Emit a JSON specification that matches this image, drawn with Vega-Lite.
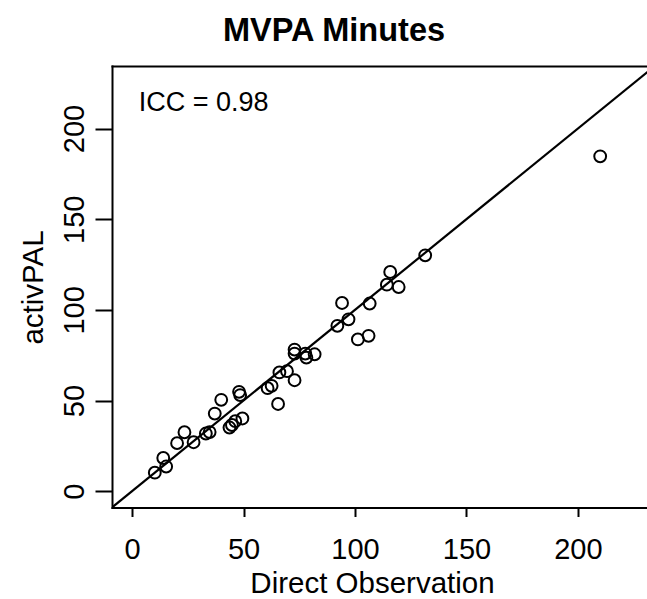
{
  "$schema": "https://vega.github.io/schema/vega-lite/v6.json",
  "width": 535,
  "height": 441.5,
  "autosize": {"type": "none"},
  "padding": {"left": 112, "top": 66, "right": 0, "bottom": 91.5},
  "background": "white",
  "title": {"text": "MVPA Minutes", "fontSize": 32.5, "fontWeight": "bold", "font": "Liberation Sans", "color": "black", "anchor": "middle", "frame": "group", "dx": -45.5, "dy": 30, "offset": 23, "baseline": "alphabetic"},
  "config": {
    "font": "Liberation Sans",
    "view": {"stroke": null},
    "axis": {"grid": false, "domainColor": "black", "domainWidth": 2, "domainCap": "square", "tickColor": "black", "tickWidth": 2, "labelColor": "black", "labelFont": "Liberation Sans", "labelFontSize": 29, "titleFont": "Liberation Sans", "titleFontSize": 29.5, "titleFontWeight": "normal", "titleColor": "black", "labelFlush": false, "labelOverlap": false}
  },
  "resolve": {"axis": {"x": "independent"}},
  "layer": [
    {
      "data": {"values": [{"x": -9, "y": -9}, {"x": 240, "y": 240}]},
      "mark": {"type": "line", "color": "black", "strokeWidth": 2.2, "clip": true},
      "encoding": {
        "x": {"field": "x", "type": "quantitative", "scale": {"domain": [-9, 231], "nice": false, "zero": false},
          "axis": {"orient": "bottom", "values": [0, 50, 100, 150, 200], "tickSize": 9, "labelPadding": 18.7, "labelBaseline": "top", "labelAlign": "center", "title": "Direct Observation", "titleX": 260, "titleY": 85, "titleAlign": "center", "titleBaseline": "alphabetic"}},
        "y": {"field": "y", "type": "quantitative", "scale": {"domain": [-9, 234.5], "nice": false, "zero": false},
          "axis": {"values": [0, 50, 100, 150, 200], "tickSize": 17, "labelAngle": 270, "labelAlign": "center", "labelBaseline": "alphabetic", "labelPadding": 11.5, "title": "activPAL", "titleAngle": 270, "titleX": -70, "titleY": 221, "titleAlign": "center", "titleBaseline": "alphabetic"}}
      }
    },
    {
      "data": {"values": [
        {"x": 10.2, "y": 10.2}, {"x": 14.0, "y": 18.3}, {"x": 15.3, "y": 13.6}, {"x": 20.2, "y": 26.5},
        {"x": 23.5, "y": 32.5}, {"x": 27.6, "y": 27.0}, {"x": 33.1, "y": 31.8}, {"x": 34.8, "y": 32.6},
        {"x": 37.1, "y": 42.8}, {"x": 40.0, "y": 50.4}, {"x": 43.7, "y": 35.1}, {"x": 44.8, "y": 36.5},
        {"x": 46.3, "y": 38.6}, {"x": 49.5, "y": 40.1}, {"x": 48.0, "y": 54.8}, {"x": 48.5, "y": 53.0},
        {"x": 60.8, "y": 56.8}, {"x": 62.6, "y": 58.1}, {"x": 65.5, "y": 48.1}, {"x": 66.1, "y": 65.5},
        {"x": 69.5, "y": 66.2}, {"x": 72.9, "y": 61.2}, {"x": 72.9, "y": 78.1}, {"x": 72.9, "y": 75.9},
        {"x": 77.7, "y": 75.9}, {"x": 78.2, "y": 73.7}, {"x": 81.9, "y": 75.5}, {"x": 92.1, "y": 91.2},
        {"x": 94.2, "y": 103.8}, {"x": 97.1, "y": 94.8}, {"x": 101.3, "y": 83.7}, {"x": 106.1, "y": 85.7},
        {"x": 106.6, "y": 103.5}, {"x": 114.3, "y": 113.9}, {"x": 115.8, "y": 120.9}, {"x": 119.6, "y": 112.6},
        {"x": 131.5, "y": 130.1}, {"x": 210.0, "y": 184.7}
      ]},
      "mark": {"type": "point", "shape": "circle", "filled": false, "stroke": "black", "strokeWidth": 2, "size": 140, "opacity": 1},
      "encoding": {
        "x": {"field": "x", "type": "quantitative", "axis": {"orient": "top", "labels": false, "ticks": false, "title": null, "domain": true}},
        "y": {"field": "y", "type": "quantitative", "axis": {"title": "activPAL"}}
      }
    },
    {
      "data": {"values": [{"label": "ICC = 0.98"}]},
      "mark": {"type": "text", "align": "left", "baseline": "alphabetic", "fontSize": 27, "font": "Liberation Sans", "color": "black"},
      "encoding": {
        "x": {"datum": 3.0, "type": "quantitative", "axis": null},
        "y": {"datum": 209.5, "type": "quantitative"},
        "text": {"field": "label", "type": "nominal"}
      }
    }
  ]
}
